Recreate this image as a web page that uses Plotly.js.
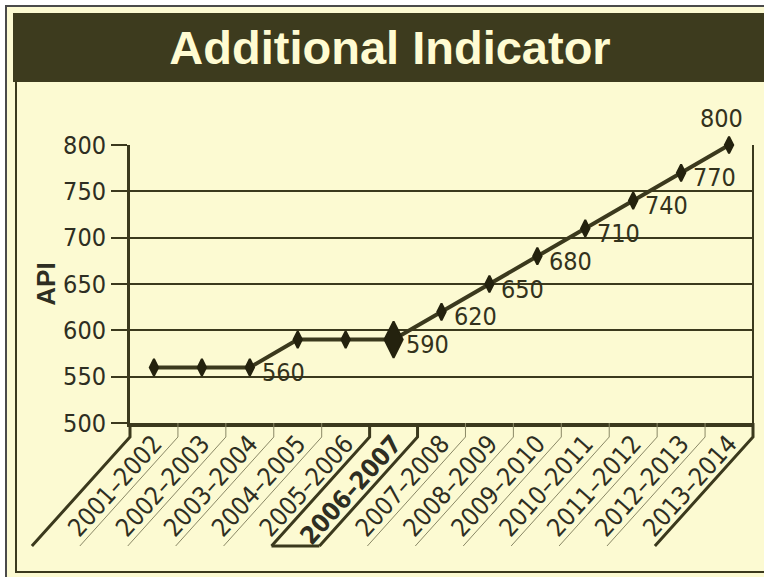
<!DOCTYPE html>
<html>
<head>
<meta charset="utf-8">
<script src="https://cdn.plot.ly/plotly-3.0.1.min.js"></script>
<style>html,body{margin:0;padding:0;background:#fff;}#chart{width:764px;height:577px;}</style>
</head>
<body>
<div id="chart"></div>
<script>
// ---- data ----
const categories = ["2001–2002","2002–2003","2003–2004","2004–2005","2005–2006","2006–2007","2007–2008","2008–2009","2009–2010","2010–2011","2011–2012","2012–2013","2013–2014"];
const apiValues = [560, 560, 560, 590, 590, 590, 620, 650, 680, 710, 740, 770, 800];
const labelShown = [false, false, true, false, false, true, true, true, true, true, true, true, true];
const highlightIndex = 5;
const yTicks = [500, 550, 600, 650, 700, 750, 800];

// ---- styling ----
const W = 764, H = 577;
const M = {l: 130, r: 11, t: 145, b: 154};
const PW = W - M.l - M.r, PH = H - M.t - M.b;
const px2x = p => (p - M.l) / PW;
const py2y = p => (H - M.b - p) / PH;
const dark = '#3b391d';
const cream = '#fcfad2';
const narrow = '"DejaVu Sans Condensed", "Liberation Sans Narrow", sans-serif';
const sans = 'Liberation Sans, Arial, sans-serif';

const shapes = [];
// outer frame
shapes.push({type:'rect', xref:'paper', yref:'paper', x0:px2x(6), x1:px2x(800), y0:py2y(6), y1:py2y(800),
  line:{color:'#4a4a4a', width:2}, fillcolor:cream, layer:'below'});
// title bar
shapes.push({type:'rect', xref:'paper', yref:'paper', x0:px2x(13), x1:px2x(790), y0:py2y(13), y1:py2y(82),
  line:{width:0}, fillcolor:'#3d3b1e', layer:'below'});
// inner panel border
shapes.push({type:'path', xref:'paper', yref:'paper',
  path:`M${px2x(16)},${py2y(82)} L${px2x(16)},${py2y(572)} L${px2x(790)},${py2y(572)}`,
  line:{color:dark, width:2}, layer:'below'});
// right border of plot
shapes.push({type:'line', xref:'paper', yref:'paper', x0:1, x1:1, y0:0, y1:1, line:{color:dark, width:2}});
// category separators
const n = categories.length;
const yBend = 437, yEnd = 546, slope = 0.9;
for (let i = 0; i <= n; i++) {
  const bx = M.l + i * PW / n;
  const thick = (i === 0 || i === n || i === highlightIndex || i === highlightIndex + 1);
  const ex = bx - slope * (yEnd - yBend);
  shapes.push({type:'path', xref:'paper', yref:'paper',
    path:`M${px2x(bx)},${py2y(H - M.b)} L${px2x(bx)},${py2y(yBend)} L${px2x(ex)},${py2y(yEnd)}`,
    line:{color: thick ? dark : '#8a8866', width: thick ? 3 : 1}});
}
// bottom of highlighted box
{
  const b1 = M.l + highlightIndex * PW / n - slope * (yEnd - yBend);
  const b2 = M.l + (highlightIndex + 1) * PW / n - slope * (yEnd - yBend);
  shapes.push({type:'line', xref:'paper', yref:'paper', x0:px2x(b1), x1:px2x(b2), y0:py2y(yEnd), y1:py2y(yEnd),
    line:{color:dark, width:3}});
}

// value labels (anchored to data points through the axes)
const annotations = [];
apiValues.forEach((v, i) => {
  if (!labelShown[i]) return;
  const last = i === n - 1;
  annotations.push({
    x: categories[i], y: v, xref:'x', yref:'y', text: String(v), showarrow:false,
    xanchor: last ? 'center' : 'left', yanchor: last ? 'bottom' : 'middle',
    xshift: last ? -8 : 10, yshift: last ? 10 : -5,
    font:{family:narrow, size:25, color:'#33321c'}
  });
});

const sizes = apiValues.map((v, i) => i === highlightIndex ? 26 : 12);
const tickText = categories.map((c, i) => i === highlightIndex ? '<b>' + c + '</b>' : c);

const trace = {
  type:'scatter', mode:'lines+markers',
  x: categories, y: apiValues,
  line:{color:dark, width:4},
  marker:{symbol:'diamond-tall', size:sizes, color:'#24220e', opacity:1, line:{color:'#24220e', width:2}},
  cliponaxis:false, hoverinfo:'none'
};

const layout = {
  width:W, height:H, margin:M,
  paper_bgcolor:'#ffffff', plot_bgcolor:'rgba(0,0,0,0)',
  showlegend:false,
  title:{text:'<b>Additional Indicator</b>', font:{family:sans, size:47, color:'#fffbd2'},
    xref:'paper', x:px2x(390), xanchor:'center', yref:'container', y:1 - 48 / H, yanchor:'middle'},
  xaxis:{type:'category', range:[-0.5, n - 0.5], tickvals:categories, ticktext:tickText,
    tickangle:-48, ticks:'', ticklabelstandoff:-8, showgrid:false, showline:true, linecolor:dark, linewidth:4,
    tickfont:{family:narrow, size:25, color:'#2e2e22'}, fixedrange:true},
  yaxis:{range:[500, 800], tickvals:yTicks, ticks:'outside', ticklen:16, tickwidth:2, tickcolor:dark,
    showgrid:true, gridcolor:dark, gridwidth:2, showline:true, linecolor:dark, linewidth:3,
    tickfont:{family:narrow, size:25, color:'#2e2e22'},
    title:{text:'<b>API</b>', font:{family:sans, size:26, color:'#2e2e22'}, standoff:0},
    fixedrange:true},
  shapes: shapes,
  annotations: annotations
};

Plotly.newPlot('chart', [trace], layout, {displayModeBar:false, staticPlot:true});
</script>
</body>
</html>
